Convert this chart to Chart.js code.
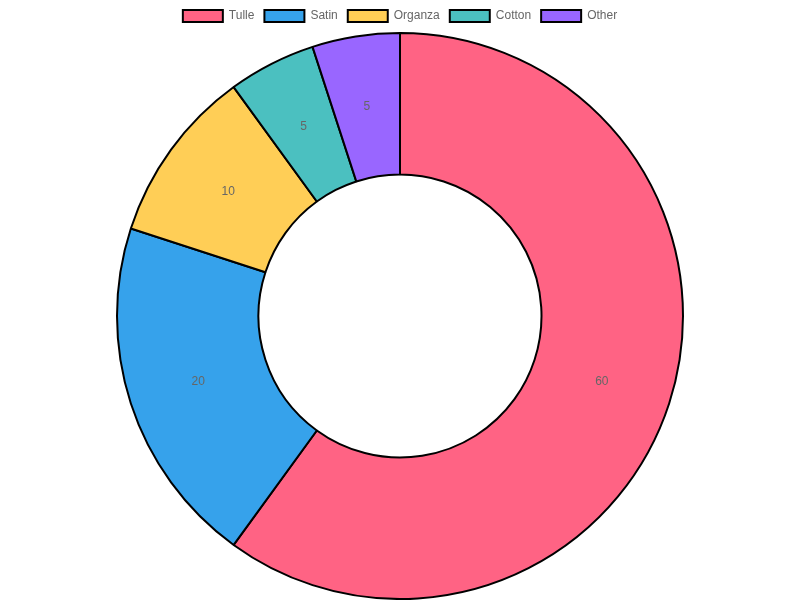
<!DOCTYPE html>
<html><head><meta charset="utf-8">
<script src="https://cdn.jsdelivr.net/npm/chart.js@4"></script>
<style>html,body{margin:0;padding:0;background:#fff}#w{width:800px;height:600px}</style>
</head><body><div id="w"><canvas id="c"></canvas></div>
<script>
const categories = ["Tulle","Satin","Organza","Cotton","Other"];
const values = [60,20,10,5,5];
const colors = ["#ff6384","#36a2eb","#ffce56","#4bc0c0","#9966ff"];
const labelPlugin = {
  id:'sliceLabels',
  afterDatasetsDraw(chart){
    const ctx = chart.ctx;
    const meta = chart.getDatasetMeta(0);
    ctx.save();
    ctx.font = '12px "Liberation Sans", Arial, sans-serif';
    ctx.fillStyle = '#666';
    ctx.textAlign = 'center'; ctx.textBaseline = 'middle';
    meta.data.forEach((arc,i)=>{
      const p = arc.tooltipPosition();
      ctx.fillText(String(values[i]), p.x, p.y);
    });
    ctx.restore();
  }
};
new Chart(document.getElementById('c'),{
  type:'doughnut',
  data:{labels:categories,datasets:[{data:values,backgroundColor:colors,borderColor:'#000',borderWidth:2}]},
  options:{
    responsive:true,maintainAspectRatio:false,animation:false,
    cutout:'50%',
    plugins:{
      legend:{position:'top',labels:{color:'#666',font:{family:'"Liberation Sans", Arial, sans-serif',size:12},boxWidth:40,boxHeight:12}},
      tooltip:{enabled:false}
    }
  },
  plugins:[labelPlugin]
});
</script></body></html>
